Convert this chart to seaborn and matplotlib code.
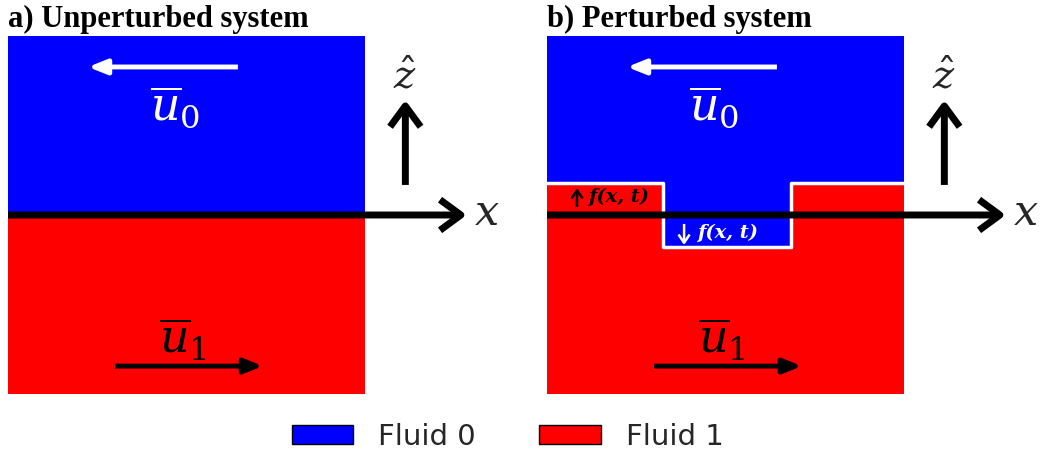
import matplotlib
matplotlib.use("Agg")
import matplotlib.pyplot as plt
import seaborn as sns
from matplotlib.patches import Patch

# Interface profiles z = f(x) across the fluid domain x in [0, 1]
flat_x = [0.0, 1.0]
flat_f = [0.0, 0.0]
step_x = [0.0, 0.325, 0.325, 0.683, 0.683, 1.0]
step_f = [0.179, 0.179, -0.179, -0.179, 0.179, 0.179]

panel_titles = ["a) Unperturbed system", "b) Perturbed system"]
fluid_names = ["Fluid 0", "Fluid 1"]
fluid_colors = ["#0000ff", "#ff0000"]

sns.set_theme(style="white")
plt.rcParams["mathtext.fontset"] = "dejavuserif"

fig = plt.figure(figsize=(10.4, 4.55), dpi=100)
ax_w = 1.38 * 357 / 1040
ax_b = 61 / 455
ax_h = 358 / 455
axes = [fig.add_axes([8 / 1040, ax_b, ax_w, ax_h]),
        fig.add_axes([547 / 1040, ax_b, ax_w, ax_h])]


def arrow(ax, start, end, color, lw, style, scale=20):
    ax.annotate("", xy=end, xytext=start,
                arrowprops=dict(arrowstyle=style, color=color, lw=lw,
                                shrinkA=0, shrinkB=0, mutation_scale=scale,
                                joinstyle="round", capstyle="butt"),
                annotation_clip=False, zorder=6)


profiles = [(flat_x, flat_f), (step_x, step_f)]
for i, (ax, (px, pf)) in enumerate(zip(axes, profiles)):
    ax.set_xlim(0, 1.38)
    ax.set_ylim(-1, 1)
    ax.axis("off")

    # upper fluid and lower fluid separated by the interface
    ax.fill_between(px, pf, 1, color=fluid_colors[0], lw=0, zorder=1)
    ax.fill_between(px, -1, pf, color=fluid_colors[1], lw=0, zorder=1)
    if i == 1:
        sns.lineplot(x=px, y=pf, sort=False, estimator=None, errorbar=None,
                     color="white", lw=2.5, ax=ax, zorder=3, legend=False)

    # coordinate axes
    arrow(ax, (0, 0), (1.285, 0), "black", 5,
          "->,head_length=0.75,head_width=0.55")
    ax.text(1.34, 0.01, r"$x$", fontsize=31, ha="center", va="center",
            zorder=7)
    arrow(ax, (1.113, 0.168), (1.113, 0.642), "black", 5,
          "->,head_length=0.75,head_width=0.55")
    ax.text(1.113, 0.77, r"$\hat{z}$", fontsize=29, ha="center",
            va="center", zorder=7)

    # mean flow velocities
    arrow(ax, (0.644, 0.827), (0.224, 0.827), "white", 3.5,
          "-|>,head_length=0.55,head_width=0.22")
    ax.text(0.468, 0.60, r"$\overline{u}_0$", fontsize=33, color="white",
            ha="center", va="center", zorder=7)
    arrow(ax, (0.30, -0.844), (0.714, -0.844), "black", 3.5,
          "-|>,head_length=0.55,head_width=0.22")
    ax.text(0.49, -0.70, r"$\overline{u}_1$", fontsize=33, color="black",
            ha="center", va="center", zorder=7)

    ax.text(0, 1.025, panel_titles[i], transform=ax.transAxes,
            fontsize=22, fontweight="bold", family="Liberation Serif",
            ha="left", va="baseline", color="black")

# displacement labels on the perturbed interface
ax = axes[1]
arrow(ax, (0.084, 0.045), (0.084, 0.151), "black", 1.8,
      "->,head_length=0.3,head_width=0.2")
ax.text(0.115, 0.10, "f(x, t)", fontsize=14, fontweight="bold",
        fontstyle="italic", family="DejaVu Serif", color="black",
        ha="left", va="center", zorder=7)
arrow(ax, (0.384, -0.05), (0.384, -0.168), "white", 1.8,
      "->,head_length=0.3,head_width=0.2")
ax.text(0.42, -0.10, "f(x, t)", fontsize=14, fontweight="bold",
        fontstyle="italic", family="DejaVu Serif", color="white",
        ha="left", va="center", zorder=7)

handles = [Patch(facecolor=c, edgecolor="black", lw=1, label=n)
           for c, n in zip(fluid_colors, fluid_names)]
fig.legend(handles=handles, loc="lower center", bbox_to_anchor=(0.488, -0.048),
           ncol=2, frameon=False, fontsize=21, handlelength=2.1,
           handleheight=0.6, handletextpad=0.85, columnspacing=2.2)

fig.savefig("out.png", dpi=100)
